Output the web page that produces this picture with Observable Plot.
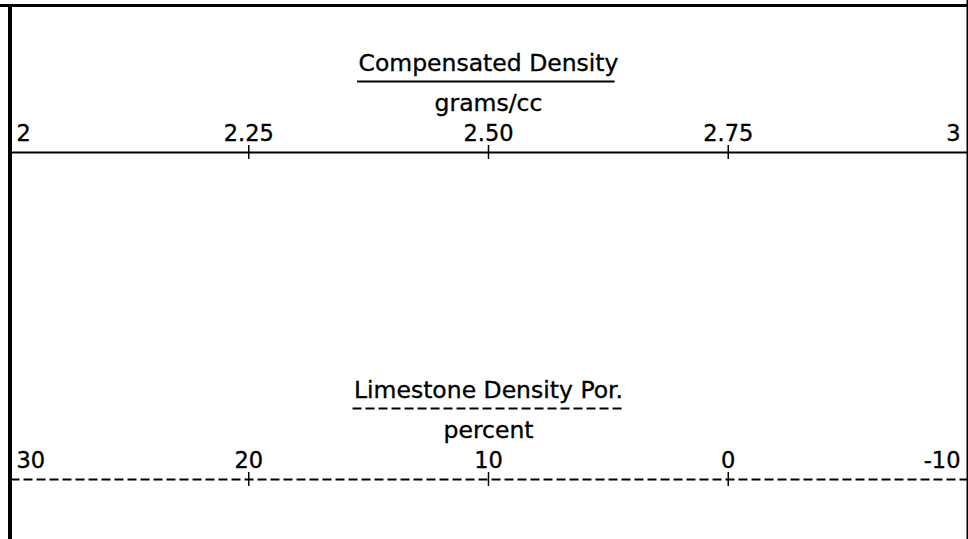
<!DOCTYPE html>
<html>
<head>
<meta charset="utf-8">
<script src="https://cdn.jsdelivr.net/npm/d3@7"></script>
<script src="https://cdn.jsdelivr.net/npm/@observablehq/plot@0.6"></script>
<style>
html, body { margin: 0; padding: 0; background: #fff; overflow: hidden; }
#chart { position: relative; width: 968px; height: 539px; background: #fff; }
#chart svg { position: absolute; left: 0; top: 0; }
</style>
</head>
<body>
<div id="chart"></div>
<script>
// ---- data ----
const densityDomain = [2, 3];
const densityTicks = [2, 2.25, 2.5, 2.75, 3];
const densityTickLabels = ["2", "2.25", "2.50", "2.75", "3"];

const porosityDomain = [30, -10];
const porosityTicks = [30, 20, 10, 0, -10];
const porosityTickLabels = ["30", "20", "10", "0", "-10"];

const curveTitles = ["Compensated Density", "Limestone Density Por."];
const curveUnits = ["grams/cc", "percent"];

// ---- layout ----
const W = 968, H = 539;
const FONT = "DejaVu Sans";
const TITLE_SIZE = 23.5, LABEL_SIZE = 22.5;
const X_RANGE = [8.5, 967.5];

function track(cfg) {
  const data = cfg.ticks.map((v, i) => ({v, label: cfg.labels[i]}));
  const first = data.slice(0, 1), last = data.slice(-1), inner = data.slice(1, -1);
  const mid = (cfg.domain[0] + cfg.domain[1]) / 2;
  const marks = [];
  if (cfg.borders) {
    marks.push(
      Plot.ruleY([5], {stroke: "#000", strokeWidth: 3}),
      Plot.ruleX([cfg.domain[0]], {y1: 4, y2: H, dx: 1, stroke: "#000", strokeWidth: 4}),
      Plot.ruleX([cfg.domain[1]], {y1: 0, y2: H, dx: -0.5, stroke: "#000", strokeWidth: 2})
    );
  }
  const textOpts = {fill: "#000", stroke: "#000", strokeWidth: 0.35, fontFamily: FONT, lineAnchor: "bottom"};
  marks.push(
    Plot.text([cfg.title], {x: mid, y: cfg.titleY, text: d => d, textAnchor: "middle", fontSize: TITLE_SIZE, ...textOpts}),
    Plot.ruleY([cfg.underlineY], {x1: cfg.underline[0], x2: cfg.underline[1], stroke: "#000", strokeWidth: 2, strokeDasharray: cfg.dash}),
    Plot.text([cfg.unit], {x: mid, y: cfg.unitY, text: d => d, textAnchor: "middle", fontSize: TITLE_SIZE, ...textOpts}),
    Plot.ruleY([cfg.axisY], {x1: cfg.domain[0], x2: cfg.domain[1], dx: 2, stroke: "#000", strokeWidth: 2, strokeDasharray: cfg.dash}),
    Plot.ruleX(inner, {x: "v", y1: cfg.axisY - 7, y2: cfg.axisY + 7, stroke: "#000", strokeWidth: 1.5}),
    Plot.text(first, {x: "v", y: cfg.labelY, text: "label", textAnchor: "start", dx: 7.5, fontSize: LABEL_SIZE, ...textOpts}),
    Plot.text(inner, {x: "v", y: cfg.labelY, text: "label", textAnchor: "middle", fontSize: LABEL_SIZE, ...textOpts}),
    Plot.text(last, {x: "v", y: cfg.labelY, text: "label", textAnchor: "end", dx: -7.5, fontSize: LABEL_SIZE, ...textOpts})
  );
  return Plot.plot({
    width: W, height: H, margin: 0,
    x: {domain: cfg.domain, range: X_RANGE, axis: null},
    y: {domain: [0, H], range: [0, H], axis: null},
    style: {background: "transparent", fontFamily: FONT, overflow: "visible"},
    marks
  });
}

const chart = document.getElementById("chart");
chart.appendChild(track({
  domain: densityDomain, ticks: densityTicks, labels: densityTickLabels,
  title: curveTitles[0], unit: curveUnits[0],
  titleY: 70, underlineY: 81, underline: [2.3635, 2.632], unitY: 110,
  labelY: 140, axisY: 152, dash: null, borders: true
}));
chart.appendChild(track({
  domain: porosityDomain, ticks: porosityTicks, labels: porosityTickLabels,
  title: curveTitles[1], unit: curveUnits[1],
  titleY: 397, underlineY: 408, underline: [15.65, 4.3], unitY: 437,
  labelY: 467, axisY: 479, dash: "9,4", borders: false
}));
</script>
</body>
</html>
